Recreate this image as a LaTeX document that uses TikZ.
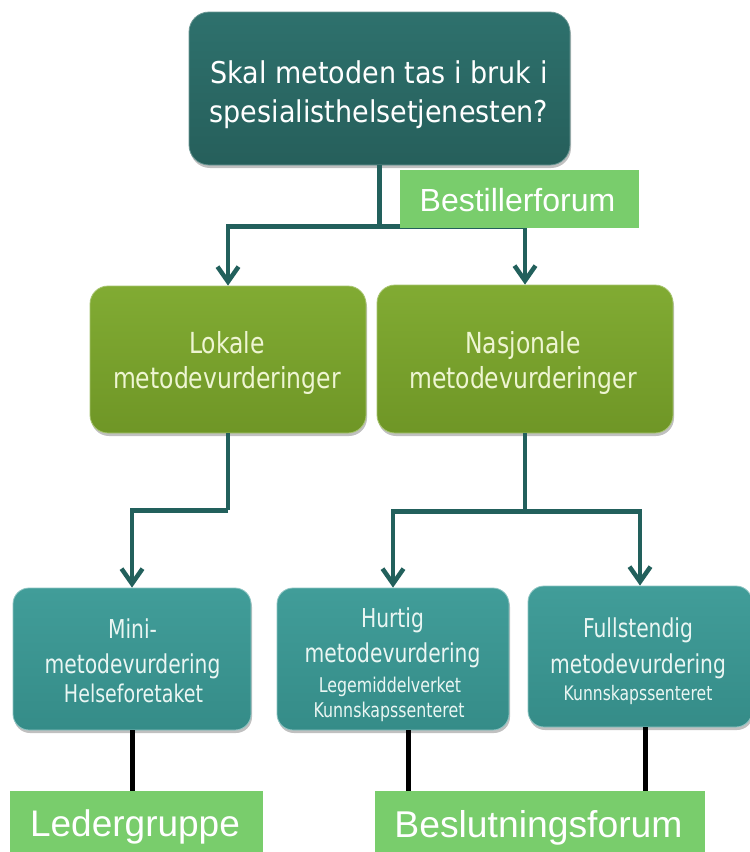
\documentclass[tikz,border=0pt]{standalone}
\usepackage{fontspec}
\setmainfont{Liberation Sans}
\newfontfamily\topf[FakeStretch=0.9]{DejaVu Sans}
\newfontfamily\midf[FakeStretch=0.81]{DejaVu Sans}
\newfontfamily\botf[FakeStretch=0.78]{DejaVu Sans}
\newfontfamily\smlf[FakeStretch=0.78]{DejaVu Sans}
\usetikzlibrary{arrows.meta,shadows,calc}
\definecolor{darkteal}{HTML}{2B6A66}
\definecolor{darktealtop}{HTML}{2E716D}
\definecolor{darktealbot}{HTML}{265F5B}
\definecolor{connteal}{HTML}{22605C}
\definecolor{olivetop}{HTML}{81AB33}
\definecolor{olivebot}{HTML}{6F9626}
\definecolor{tealtop}{HTML}{419D99}
\definecolor{tealbot}{HTML}{358C88}
\definecolor{labgreen}{HTML}{79CD6C}
\definecolor{creamtxt}{HTML}{EEF5D2}
\definecolor{tealtxt}{HTML}{EAF6F3}
\tikzset{
  boxshadow/.style={drop shadow={shadow xshift=1pt,shadow yshift=-3pt,opacity=.35,fill=black!70}},
  topbox/.style={rectangle,rounded corners=20pt,top color=darktealtop,bottom color=darktealbot,draw=darkteal!70!white,line width=0.8pt,boxshadow,inner sep=0pt},
  midbox/.style={rectangle,rounded corners=18pt,top color=olivetop,bottom color=olivebot,draw=olivetop!70!white,line width=0.8pt,boxshadow,inner sep=0pt},
  botbox/.style={rectangle,rounded corners=16pt,top color=tealtop,bottom color=tealbot,draw=tealtop!60!white,line width=0.8pt,boxshadow,inner sep=0pt},
  labbox/.style={rectangle,fill=labgreen,inner sep=0pt},
  txt/.style={inner sep=0pt,anchor=base},
  conn/.style={draw=connteal,line width=4.5pt},
  connarrow/.style={conn,-{Straight Barb[length=15pt,width=21pt]}},
  blackline/.style={draw=black,line width=5pt},
}
\begin{document}
\begin{tikzpicture}[x=1pt,y=-1pt]
\useasboundingbox (0,0) rectangle (750,852);
\fill[white] (0,0) rectangle (750,852);

% boxes
\node[topbox,minimum width=381pt,minimum height=153pt] (q) at (379.5,88.5) {};
\node[midbox,minimum width=276pt,minimum height=147pt] (lok) at (228,359.5) {};
\node[midbox,minimum width=296pt,minimum height=148pt] (nas) at (525,359) {};
\node[botbox,minimum width=238pt,minimum height=142pt] (mini) at (132,659) {};
\node[botbox,minimum width=232pt,minimum height=142pt] (hur) at (393,659) {};
\node[botbox,minimum width=224pt,minimum height=141pt] (ful) at (640,656.5) {};

% connectors (teal)
\draw[conn] (q.south) -- ++(0,61) coordinate (j1);
\draw[connarrow] (j1) -| (lok.north);
\draw[connarrow] (j1) -| (nas.north);
\draw[conn] (lok.south) -- ++(0,77) coordinate (j2);
\draw[connarrow] (j2) -| (mini.north);
\draw[conn] (nas.south) -- ++(0,78) coordinate (j3);
\draw[connarrow] (j3) -| (hur.north);
\draw[connarrow] (j3) -| (ful.north);

% labels
\node[labbox,minimum width=239pt,minimum height=58pt] (bf) at (519.5,199) {};
\node[labbox,minimum width=253pt,minimum height=64pt] (led) at (136.5,823) {};
\node[labbox,minimum width=330pt,minimum height=64pt] (bes) at (540,823) {};

% black lines
\draw[blackline] (mini.south) -- (mini.south |- led.north);
\draw[blackline] ([xshift=15pt]hur.south) -- ([xshift=15pt]hur.south |- bes.north);
\draw[blackline] ([xshift=5pt]ful.south) -- ([xshift=5pt]ful.south |- bes.north);

% texts
\node[txt,text=white,font=\topf\fontsize{30}{36}\selectfont] (q1) at (379,83) {Skal metoden tas i bruk i};
\node[txt,text=white,font=\topf\fontsize{30}{36}\selectfont] (q2) at (379,122) {spesialisthelsetjenesten?};

\node[txt,text=creamtxt,font=\midf\fontsize{29}{35}\selectfont] (lok1) at (227,353) {Lokale};
\node[txt,text=creamtxt,font=\midf\fontsize{29}{35}\selectfont] (lok2) at (227,388) {metodevurderinger};
\node[txt,text=creamtxt,font=\midf\fontsize{29}{35}\selectfont] (nas1) at (523,353) {Nasjonale};
\node[txt,text=creamtxt,font=\midf\fontsize{29}{35}\selectfont] (nas2) at (523,388) {metodevurderinger};

\node[txt,text=tealtxt,font=\botf\fontsize{26}{30}\selectfont] (mini1) at (132.5,638) {Mini-};
\node[txt,text=tealtxt,font=\botf\fontsize{26}{30}\selectfont] (mini2) at (132.5,673) {metodevurdering};
\node[txt,text=tealtxt,font=\smlf\fontsize{24.4}{28}\selectfont] (mini3) at (133.5,702) {Helseforetaket};

\node[txt,text=tealtxt,font=\botf\fontsize{26}{30}\selectfont] (hur1) at (392.5,627) {Hurtig};
\node[txt,text=tealtxt,font=\botf\fontsize{26}{30}\selectfont] (hur2) at (392.5,662) {metodevurdering};
\node[txt,text=tealtxt,font=\smlf\fontsize{20.3}{24}\selectfont] (hur3) at (390,692) {Legemiddelverket};
\node[txt,text=tealtxt,font=\smlf\fontsize{20.3}{24}\selectfont] (hur4) at (389,717) {Kunnskapssenteret};

\node[txt,text=tealtxt,font=\botf\fontsize{26}{30}\selectfont] (ful1) at (638,637) {Fullstendig};
\node[txt,text=tealtxt,font=\botf\fontsize{26}{30}\selectfont] (ful2) at (638,673) {metodevurdering};
\node[txt,text=tealtxt,font=\smlf\fontsize{20}{24}\selectfont] (ful3) at (638,700) {Kunnskapssenteret};

\node[txt,text=white,font=\fontsize{32}{38}\selectfont] (bft) at (517.5,211) {Bestillerforum};
\node[txt,text=white,font=\fontsize{37}{44}\selectfont] (ledt) at (135,836) {Ledergruppe};
\node[txt,text=white,font=\fontsize{37.3}{44}\selectfont] (best) at (538.5,837) {Beslutningsforum};
\end{tikzpicture}
\end{document}
